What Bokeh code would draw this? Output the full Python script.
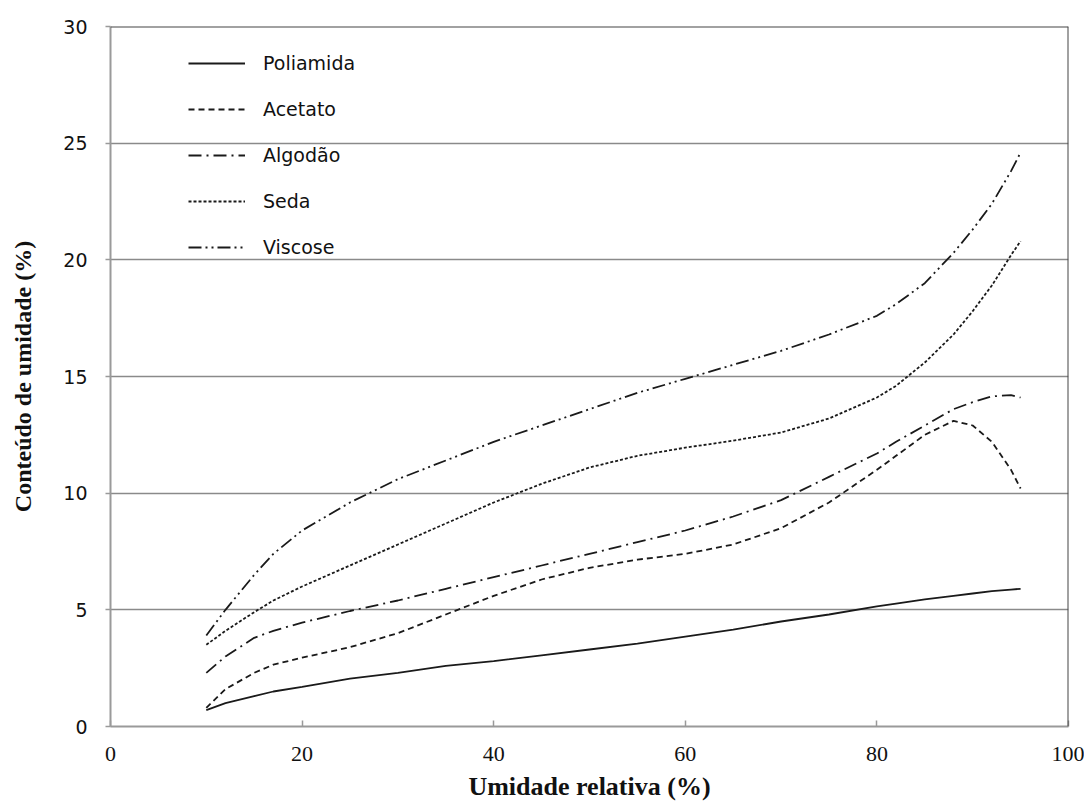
from bokeh.plotting import figure
from bokeh.models import Legend, LegendItem, Span, FixedTicker
from bokeh.embed import file_html
from bokeh.resources import INLINE

# ---- data ----
umidade_relativa = [10, 12, 15, 17, 20, 25, 30, 35, 40, 45, 50, 55, 60, 65, 70, 75, 80, 82, 85, 88, 90, 92, 94, 95]
poliamida = [0.7, 1.0, 1.3, 1.5, 1.7, 2.05, 2.3, 2.6, 2.8, 3.05, 3.3, 3.55, 3.85, 4.15, 4.5, 4.8, 5.15, 5.27, 5.45, 5.6, 5.7, 5.8, 5.87, 5.9]
acetato = [0.8, 1.6, 2.3, 2.65, 2.95, 3.4, 4.0, 4.8, 5.6, 6.3, 6.8, 7.15, 7.4, 7.8, 8.5, 9.6, 11.0, 11.6, 12.5, 13.1, 12.9, 12.2, 11.0, 10.2]
algodao = [2.3, 3.0, 3.8, 4.1, 4.45, 4.95, 5.4, 5.9, 6.4, 6.9, 7.4, 7.9, 8.4, 9.0, 9.7, 10.7, 11.7, 12.2, 12.9, 13.6, 13.9, 14.15, 14.2, 14.1]
seda = [3.5, 4.1, 4.9, 5.4, 6.0, 6.9, 7.8, 8.7, 9.6, 10.4, 11.1, 11.6, 11.95, 12.25, 12.6, 13.2, 14.1, 14.6, 15.6, 16.8, 17.8, 18.9, 20.2, 20.8]
viscose = [3.9, 5.0, 6.5, 7.4, 8.4, 9.6, 10.6, 11.4, 12.2, 12.9, 13.6, 14.3, 14.9, 15.5, 16.1, 16.8, 17.6, 18.1, 19.0, 20.3, 21.3, 22.4, 23.8, 24.6]

series_names = ["Poliamida", "Acetato", "Algodão", "Seda", "Viscose"]
series_values = [poliamida, acetato, algodao, seda, viscose]
series_dash = ["solid", "6 4", "13 5 2 5", "3 2", "13 4 2 4 2 4"]

x_ticks = [0, 20, 40, 60, 80, 100]
y_ticks = [0, 5, 10, 15, 20, 25, 30]

p = figure(width=1084, height=804, output_backend="svg", toolbar_location=None,
           x_range=(0, 100), y_range=(0, 30),
           min_border_left=110, min_border_right=16, min_border_top=26, min_border_bottom=78)
p.outline_line_color = None
p.background_fill_color = "white"

# grid
p.xgrid.grid_line_color = None
p.ygrid.ticker = FixedTicker(ticks=y_ticks[1:-1])
p.ygrid.grid_line_color = "#8a8a8a"
p.ygrid.grid_line_width = 1.5

# top and right frame lines
p.add_layout(Span(location=30, dimension="width", line_color="#444444", line_width=2))
p.add_layout(Span(location=100, dimension="height", line_color="#444444", line_width=2))

# axes
p.xaxis.ticker = FixedTicker(ticks=x_ticks)
p.yaxis.ticker = FixedTicker(ticks=y_ticks)
for ax in (p.xaxis[0], p.yaxis[0]):
    ax.axis_line_color = "#9a9a9a"
    ax.axis_line_width = 2
    ax.major_tick_line_color = "#9a9a9a"
    ax.major_tick_line_width = 1.5
    ax.minor_tick_line_color = None
    ax.major_label_text_color = "#111111"
    ax.axis_label_text_color = "#111111"
    ax.axis_label_text_font = "Liberation Serif"
    ax.axis_label_text_font_style = "bold"

p.xaxis.major_tick_in = 6
p.xaxis.major_tick_out = 0
p.xaxis.major_label_text_font = "Liberation Serif"
p.xaxis.major_label_text_font_size = "22px"
p.xaxis.major_label_standoff = 20
p.xaxis.axis_label = "Umidade relativa (%)"
p.xaxis.axis_label_text_font_size = "26px"
p.xaxis.axis_label_standoff = 8

p.yaxis.major_tick_in = 0
p.yaxis.major_tick_out = 5
p.yaxis.major_label_text_font = "DejaVu Sans"
p.yaxis.major_label_text_font_size = "19px"
p.yaxis.major_label_standoff = 18
p.yaxis.axis_label = "Conteúdo de umidade (%)"
p.yaxis.axis_label_text_font_size = "24px"
p.yaxis.axis_label_standoff = 24

items = []
for name, vals, dash in zip(series_names, series_values, series_dash):
    r = p.line(umidade_relativa, vals, line_color="#1a1a1a", line_width=1.8, line_dash=dash)
    items.append(LegendItem(label=name, renderers=[r]))

legend = Legend(items=items, location=(78, 468), orientation="vertical",
                glyph_width=57, glyph_height=20, label_height=20, spacing=24,
                label_standoff=18, padding=0, margin=0,
                label_text_font="DejaVu Sans", label_text_font_size="19px",
                label_text_color="#111111",
                background_fill_alpha=0, border_line_color=None)
p.add_layout(legend, "center")

open("out.html", "w").write(file_html(p, INLINE))
